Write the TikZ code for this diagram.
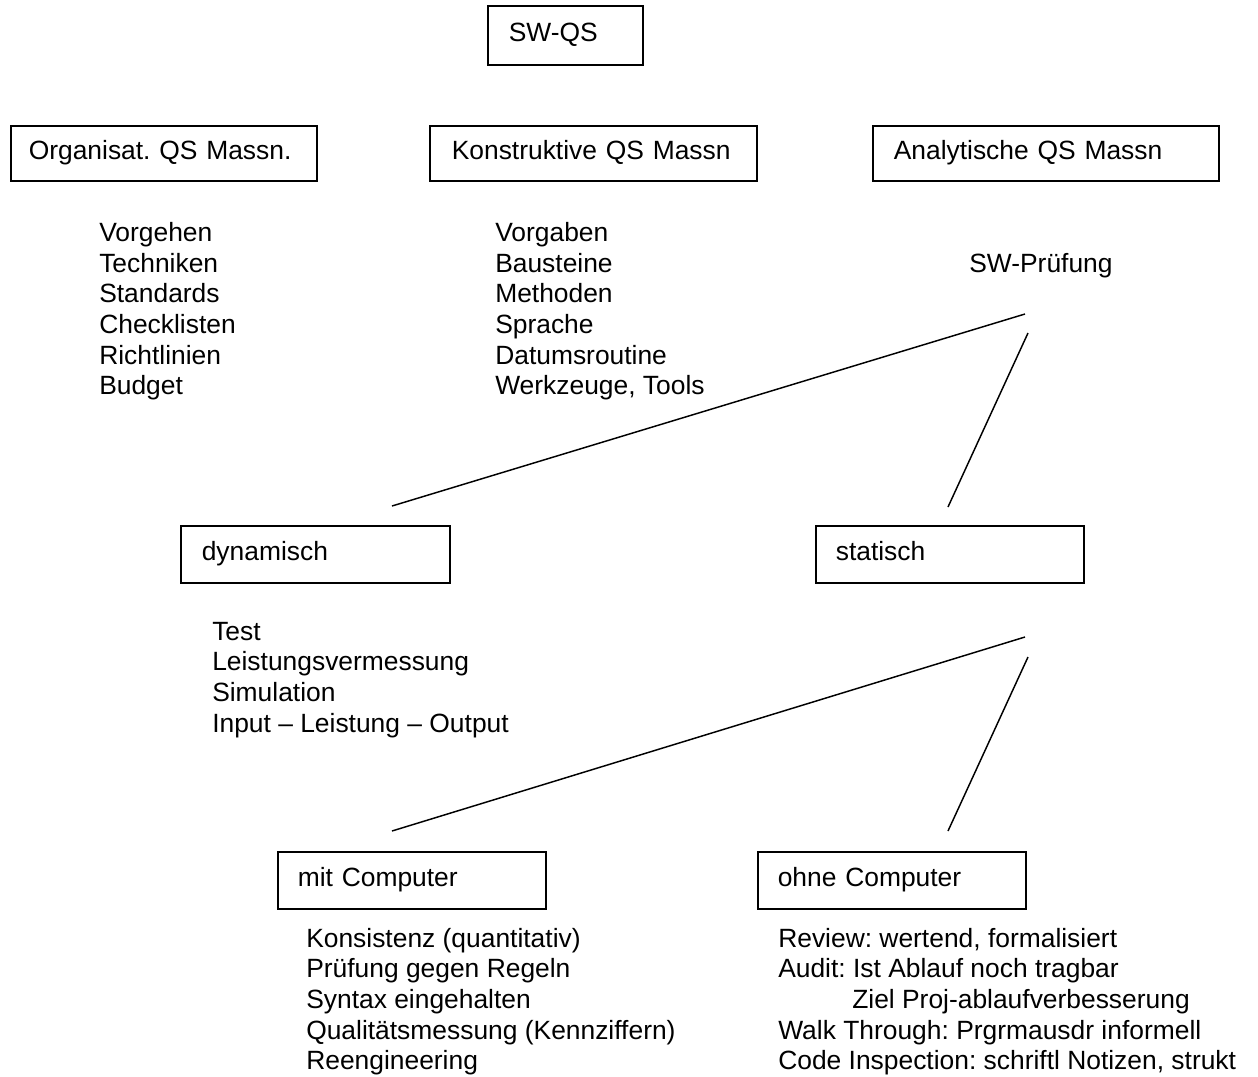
\documentclass[tikz,border=0pt]{standalone}
\usepackage{fontspec}
\setmainfont{Liberation Sans}
\frenchspacing
\newcommand\bodyfont{\fontsize{19.8}{23}\selectfont\frenchspacing}
\tikzset{
  box/.style={draw, line width=1.2pt, anchor=north west, align=left,
    font=\bodyfont, text height=14pt, text depth=5pt, inner ysep=0pt},
  lst/.style={anchor=base west, inner sep=0pt, font=\bodyfont},
  conn/.style={line width=1.1pt}
}
\begin{document}
\begin{tikzpicture}[x=0.75pt,y=-0.75pt]
\useasboundingbox (0,0) rectangle (1258,1076);

% top
\node[box, minimum width=116.25pt, minimum height=44.25pt, text width=84.75pt, inner xsep=15.75pt] (swqs) at (487,5) {SW-QS};

% second level
\node[box, minimum width=229.5pt, minimum height=41.25pt, text width=202.5pt, inner xsep=13.5pt] (org) at (10,125) {Organisat. QS Massn.};
\node[box, minimum width=245.25pt, minimum height=41.25pt, text width=212.25pt, inner xsep=16.5pt] (kon) at (429,125) {Konstruktive QS Massn};
\node[box, minimum width=259.5pt, minimum height=41.25pt, text width=228pt, inner xsep=15.75pt] (ana) at (872,125) {Analytische QS Massn};

\node[lst] (orglist) at (99,241.5) {\begin{tabular}[t]{@{}l@{}}Vorgehen\\Techniken\\Standards\\Checklisten\\Richtlinien\\Budget\end{tabular}};
\node[lst] (konlist) at (495,241.5) {\begin{tabular}[t]{@{}l@{}}Vorgaben\\Bausteine\\Methoden\\Sprache\\Datumsroutine\\Werkzeuge, Tools\end{tabular}};
\node[lst] (swp) at (969,272) {SW-Prüfung};

% third level
\node[box, minimum width=201.75pt, minimum height=42.75pt, text width=170.25pt, inner xsep=15.75pt] (dyn) at (180,525) {dynamisch};
\node[box, minimum width=201pt, minimum height=42.75pt, text width=171pt, inner xsep=15pt] (stat) at (815,525) {statisch};

\node[lst] (dynlist) at (212,640) {\begin{tabular}[t]{@{}l@{}}Test\\Leistungsvermessung\\Simulation\\Input -- Leistung -- Output\end{tabular}};

% fourth level
\node[box, minimum width=201pt, minimum height=42.75pt, text width=171pt, inner xsep=15pt] (mit) at (277,851) {mit Computer};
\node[box, minimum width=201pt, minimum height=42.75pt, text width=171pt, inner xsep=15pt] (ohne) at (757,851) {ohne Computer};

\node[lst] (mitlist) at (306,947) {\begin{tabular}[t]{@{}l@{}}Konsistenz (quantitativ)\\Prüfung gegen Regeln\\Syntax eingehalten\\Qualitätsmessung (Kennziffern)\\Reengineering\end{tabular}};
\node[lst] (ohnelist) at (778,947) {\begin{tabular}[t]{@{}l@{}}Review: wertend, formalisiert\\Audit: Ist Ablauf noch tragbar\\\hspace*{55.5pt}Ziel Proj-ablaufverbesserung\\Walk Through: Prgrmausdr informell\\Code Inspection: schriftl Notizen, strukt\end{tabular}};

% connectors
\coordinate (p1a) at (1025,314);
\coordinate (p1b) at (392,506);
\coordinate (p2a) at (1028,333);
\coordinate (p2b) at (948,507);
\coordinate (p3a) at (1025,637);
\coordinate (p3b) at (392,831);
\coordinate (p4a) at (1028,657);
\coordinate (p4b) at (948,831);
\draw[conn] (p1a) -- (p1b);
\draw[conn] (p2a) -- (p2b);
\draw[conn] (p3a) -- (p3b);
\draw[conn] (p4a) -- (p4b);
\end{tikzpicture}
\end{document}
